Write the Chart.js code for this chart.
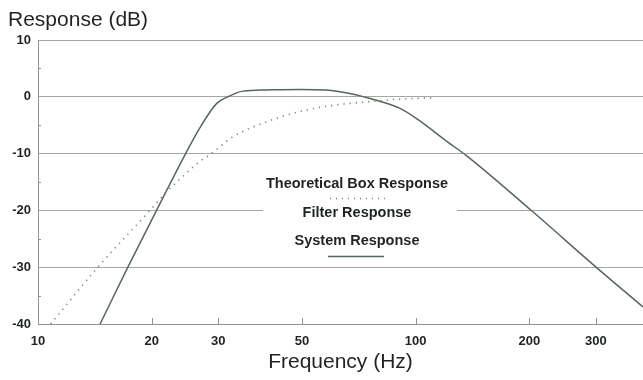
<!DOCTYPE html>
<html><head><meta charset="utf-8">
<script src="https://cdn.jsdelivr.net/npm/chart.js@4/dist/chart.umd.min.js"></script>
<style>html,body{margin:0;padding:0;background:#fff}canvas{display:block}</style>
</head><body>
<canvas id="c" width="643" height="380"></canvas>
<script>
// ---- data ----
const xTickValues = [10, 20, 30, 50, 100, 200, 300];
const yTickValues = [10, 0, -10, -20, -30, -40];
const legendNames = ['Theoretical Box Response', 'Filter Response', 'System Response'];
const yTitle = 'Response (dB)';
const xTitle = 'Frequency (Hz)';

const boxFreq = [10.8, 14.4, 19.8, 21.9, 24, 26.8, 28.5, 32.9, 40.3, 49.3, 60.4, 74.1, 90.7, 110];
const boxDb   = [-40, -30, -20, -16.7, -14.2, -11.4, -10.2, -7.0, -4.4, -2.6, -1.5, -0.9, -0.4, -0.2];

const sysFreq = [14.6, 17.3, 20.6, 24.6, 26.8, 29.7, 31.8, 34.9, 40.3, 49.3, 58, 66.9, 78.7, 90.7, 100.4, 123, 136, 204, 303, 400];
const sysDb   = [-40, -30, -20, -10, -5.5, -1.2, 0.0, 1.0, 1.2, 1.3, 1.2, 0.6, -0.6, -2.0, -3.8, -8.2, -10.3, -20.2, -30.2, -37];

const FONT = "'Liberation Sans', Arial, sans-serif";
const TEXT = '#1f2420';
const GRID = '#a0aaa2';
const AXIS = '#8c978e';
const SOLID = '#56665a';
const DOTS = '#76837a';

const toPts = (xs, ys) => xs.map((x, i) => ({x: x, y: ys[i]}));

const decorPlugin = {
  id: 'decor',
  beforeDatasetsDraw(chart) {
    const ctx = chart.ctx, a = chart.chartArea;
    const xs = chart.scales.x, ys = chart.scales.y;
    ctx.save();
    // legend background box
    ctx.fillStyle = '#fff';
    ctx.fillRect(263, 166, 194, 96);
    // inward x tick marks
    ctx.strokeStyle = AXIS; ctx.lineWidth = 1;
    xTickValues.forEach(v => {
      const px = Math.round(xs.getPixelForValue(v)) + 0.5;
      ctx.beginPath(); ctx.moveTo(px, a.bottom); ctx.lineTo(px, a.bottom - 6); ctx.stroke();
    });
    // minor y tick marks at mid-steps
    for (let i = 0; i < yTickValues.length - 1; i++) {
      const mid = (yTickValues[i] + yTickValues[i + 1]) / 2;
      const py = Math.round(ys.getPixelForValue(mid)) + 0.5;
      ctx.beginPath(); ctx.moveTo(a.left, py); ctx.lineTo(a.left + 3, py); ctx.stroke();
    }
    ctx.restore();
  },
  afterDraw(chart) {
    const ctx = chart.ctx;
    ctx.save();
    ctx.fillStyle = TEXT;
    ctx.font = '21px ' + FONT;
    ctx.textAlign = 'left'; ctx.textBaseline = 'alphabetic';
    ctx.fillText(yTitle, 8, 26);
    // legend
    ctx.font = 'bold 14.5px ' + FONT;
    ctx.textAlign = 'center'; ctx.textBaseline = 'middle';
    const cx = 357;
    ctx.fillText(legendNames[0], cx, 184);
    ctx.fillText(legendNames[1], cx, 213);
    ctx.fillText(legendNames[2], cx, 241);
    ctx.lineWidth = 1.5;
    ctx.strokeStyle = DOTS; ctx.setLineDash([1, 5]);
    ctx.beginPath(); ctx.moveTo(330, 198.5); ctx.lineTo(386, 198.5); ctx.stroke();
    ctx.setLineDash([]);
    ctx.strokeStyle = SOLID;
    ctx.beginPath(); ctx.moveTo(328, 256.5); ctx.lineTo(384, 256.5); ctx.stroke();
    ctx.restore();
  }
};

new Chart(document.getElementById('c'), {
  type: 'line',
  data: {
    datasets: [
      { label: legendNames[0], data: toPts(boxFreq, boxDb), borderColor: DOTS, borderWidth: 1.6,
        borderDash: [1.2, 5], pointRadius: 0, cubicInterpolationMode: 'monotone', fill: false },
      { label: legendNames[2], data: toPts(sysFreq, sysDb), borderColor: SOLID, borderWidth: 1.5,
        pointRadius: 0, cubicInterpolationMode: 'monotone', fill: false }
    ]
  },
  options: {
    responsive: false, animation: false, devicePixelRatio: 1,
    layout: { padding: { top: 40, left: 0, right: 0, bottom: 0 } },
    plugins: { legend: { display: false }, title: { display: false }, tooltip: { enabled: false } },
    scales: {
      x: {
        type: 'logarithmic', min: 10, max: 400,
        afterBuildTicks: s => { s.ticks = xTickValues.map(v => ({value: v})); },
        ticks: { autoSkip: false, maxRotation: 0, padding: 10, color: TEXT,
                 font: { family: FONT, size: 13, weight: 'bold' }, callback: v => String(v) },
        grid: { display: false, drawTicks: false },
        border: { display: true, color: AXIS, width: 1 },
        title: { display: true, text: xTitle, color: TEXT, font: { family: FONT, size: 21 },
                 padding: { top: 0, bottom: 5 } },
        afterFit: s => { s.height = 56; }
      },
      y: {
        type: 'linear', min: -40, max: 10,
        afterBuildTicks: s => { s.ticks = yTickValues.map(v => ({value: v})); },
        ticks: { padding: 7, color: TEXT, font: { family: FONT, size: 13, weight: 'bold' } },
        grid: { color: GRID, lineWidth: 1, drawTicks: false },
        border: { display: true, color: AXIS, width: 1 },
        afterFit: s => { s.width = 38; }
      }
    }
  },
  plugins: [decorPlugin]
});
</script>
</body></html>
